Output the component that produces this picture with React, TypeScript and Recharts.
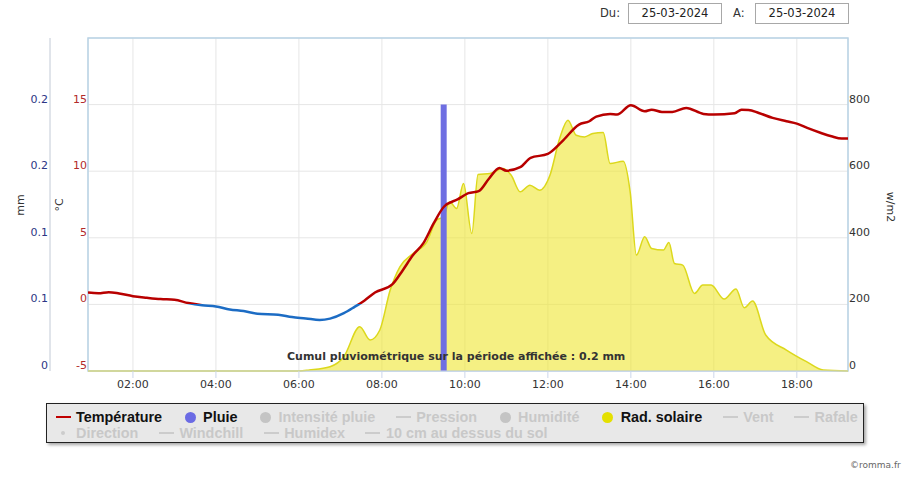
import { ComposedChart, Area, Line, Bar, XAxis, YAxis, CartesianGrid, ReferenceArea } from 'recharts'

// time range shown
const startTime = '00:55'
const endTime = '19:14'

const hourTicks = ['02:00', '04:00', '06:00', '08:00', '10:00', '12:00', '14:00', '16:00', '18:00']
const tempTicks = [-5, 0, 5, 10, 15]
const mmTicks = [0, 0.05, 0.1, 0.15, 0.2]
const radTicks = [0, 200, 400, 600, 800]

// température (°C)
const tempTimes = [
  '00:55', '01:10', '01:25', '01:40', '02:00', '02:20', '02:40', '03:00', '03:20', '03:40',
  '04:00', '04:20', '04:40', '05:00', '05:30', '05:50', '06:10', '06:30', '06:45', '07:05',
  '07:20', '07:35', '07:50', '08:15', '08:30', '08:45', '09:00', '09:15', '09:30', '09:50',
  '10:05', '10:20', '10:35', '10:50', '11:00', '11:20', '11:35', '12:00', '12:20', '12:45',
  '13:00', '13:10', '13:30', '13:40', '14:00', '14:20', '14:30', '14:45', '15:00', '15:20',
  '15:45', '16:00', '16:30', '16:40', '16:50', '17:05', '17:25', '17:45', '18:00', '18:15',
  '18:35', '18:50', '19:05', '19:14',
]
const tempValues = [
  0.89, 0.84, 0.92, 0.82, 0.62, 0.5, 0.4, 0.35, 0.1, -0.06,
  -0.15, -0.38, -0.5, -0.7, -0.77, -0.95, -1.05, -1.17, -1.07, -0.66,
  -0.2, 0.3, 0.89, 1.5, 2.55, 3.7, 4.6, 6.1, 7.35, 7.9,
  8.35, 8.5, 9.45, 10.24, 10.04, 10.3, 11.0, 11.3, 12.2, 13.5,
  13.75, 14.1, 14.3, 14.25, 14.95, 14.5, 14.62, 14.45, 14.45, 14.75,
  14.3, 14.25, 14.35, 14.62, 14.6, 14.37, 14.0, 13.75, 13.57, 13.25,
  12.87, 12.62, 12.45, 12.45,
]

// rayonnement solaire (w/m2)
const radTimes = [
  '00:55', '06:00', '06:15', '06:45', '07:05', '07:28', '07:43', '07:57', '08:12', '08:26',
  '08:45', '09:05', '09:19', '09:29', '09:38', '09:48', '09:58', '10:10', '10:19', '10:36',
  '10:55', '11:07', '11:20', '11:34', '11:48', '12:03', '12:17', '12:29', '12:41', '12:53',
  '13:05', '13:20', '13:30', '13:49', '13:59', '14:08', '14:20', '14:30', '14:47', '14:55',
  '15:03', '15:15', '15:32', '15:44', '15:56', '16:15', '16:32', '16:44', '16:56', '17:15',
  '17:45', '18:14', '18:38', '19:14',
]
const radValues = [
  0, 0, 3, 13, 43, 133, 93, 123, 243, 313,
  353, 388, 453, 463, 508, 488, 563, 413, 590, 593,
  608, 588, 538, 558, 543, 588, 698, 753, 708, 703,
  713, 716, 623, 630, 538, 348, 403, 368, 363, 386,
  323, 318, 233, 258, 258, 216, 246, 190, 210, 108,
  63, 28, 3, 0,
]

// pluie (mm)
const rainTimes = ['09:20', '09:30', '09:40']
const rainValues = [0, 0.2, 0]

const toHours = (s: string) => {
  const [h, m] = s.split(':').map(Number)
  return h + m / 60
}

const tempData = tempTimes.map((t, i) => ({ t: toHours(t), temp: tempValues[i] }))
const radData = radTimes.map((t, i) => ({ t: toHours(t), rad: radValues[i] }))
const rainData = rainTimes.map((t, i) => ({ t: toHours(t), rain: rainValues[i] }))

const tMax = Math.max(...tempValues)
const tMin = Math.min(...tempValues)
const zeroOffset = tMax / (tMax - tMin)

const font = '"DejaVu Sans", Verdana, sans-serif'

const makeTick = (fill: string, anchor: 'start' | 'end', fmt: (v: number) => string) => (props: any) => {
  const { x, y, payload } = props
  return (
    <text x={x} y={y - 6} dy="0.355em" textAnchor={anchor} fill={fill} fontSize={11} fontFamily={font}>
      {fmt(payload.value)}
    </text>
  )
}

type Item = { name: string; symbol: 'line' | 'circle' | 'dot'; color: string; active: boolean }

const legendRows: Item[][] = [
  [
    { name: 'Température', symbol: 'line', color: '#c00000', active: true },
    { name: 'Pluie', symbol: 'circle', color: '#6b6be4', active: true },
    { name: 'Intensité pluie', symbol: 'circle', color: '#c4c4c4', active: false },
    { name: 'Pression', symbol: 'line', color: '#cccccc', active: false },
    { name: 'Humidité', symbol: 'circle', color: '#c4c4c4', active: false },
    { name: 'Rad. solaire', symbol: 'circle', color: '#e4e000', active: true },
    { name: 'Vent', symbol: 'line', color: '#cccccc', active: false },
    { name: 'Rafale', symbol: 'line', color: '#cccccc', active: false },
  ],
  [
    { name: 'Direction', symbol: 'dot', color: '#cccccc', active: false },
    { name: 'Windchill', symbol: 'line', color: '#cccccc', active: false },
    { name: 'Humidex', symbol: 'line', color: '#cccccc', active: false },
    { name: '10 cm au dessus du sol', symbol: 'line', color: '#cccccc', active: false },
  ],
]

function Symbol({ item }: { item: Item }) {
  const box = { width: 16, height: 16, display: 'flex', alignItems: 'center', justifyContent: 'center' } as const
  if (item.symbol === 'line')
    return (
      <span style={box}>
        <span style={{ width: 15, height: 2, background: item.color }} />
      </span>
    )
  if (item.symbol === 'dot')
    return (
      <span style={box}>
        <span style={{ width: 4, height: 4, borderRadius: 2, background: item.color }} />
      </span>
    )
  return (
    <span style={box}>
      <span style={{ width: 11, height: 11, borderRadius: 6, background: item.color }} />
    </span>
  )
}

function ChartLegend() {
  return (
    <div
      style={{
        position: 'absolute', left: 46, top: 403, width: 818, height: 40, boxSizing: 'border-box',
        background: '#e8e8e8', border: '1px solid #222', boxShadow: '2px 2px 3px rgba(0,0,0,0.35)',
        padding: '5px 0 0 8px', fontFamily: '"Liberation Sans", Arial, sans-serif', fontWeight: 'bold', fontSize: 14.4,
      }}
    >
      {legendRows.map((row, r) => (
        <div key={r} style={{ display: 'flex', height: 16, alignItems: 'center', gap: 20, whiteSpace: 'nowrap' }}>
          {row.map((item) => (
            <span key={item.name} style={{ display: 'flex', alignItems: 'center', gap: 5 }}>
              <Symbol item={item} />
              <span style={{ color: item.active ? '#111' : '#c8c8c8', lineHeight: '16px' }}>{item.name}</span>
            </span>
          ))}
        </div>
      ))}
    </div>
  )
}

const rotated = (left: number, top: number, deg: number) =>
  ({
    position: 'absolute', left, top, transform: `translate(-50%, -50%) rotate(${deg}deg)`,
    fontFamily: font, fontSize: 11, color: '#333', whiteSpace: 'nowrap',
  }) as const

export default function App() {
  const x0 = toHours(startTime)
  const x1 = toHours(endTime)
  return (
    <div style={{ position: 'absolute', left: 0, top: 0, width: 910, height: 480, background: '#fff', fontFamily: font }}>
      <div style={{ position: 'absolute', left: 600, top: 6, fontSize: 11.5, color: '#333' }}>Du:</div>
      <div style={{ position: 'absolute', left: 628, top: 3, width: 94, height: 21, boxSizing: 'border-box', border: '1px solid #a8a8a8', textAlign: 'center', lineHeight: '19px', fontSize: 11.5, color: '#222' }}>25-03-2024</div>
      <div style={{ position: 'absolute', left: 733, top: 6, fontSize: 11.5, color: '#333' }}>A:</div>
      <div style={{ position: 'absolute', left: 755, top: 3, width: 94, height: 21, boxSizing: 'border-box', border: '1px solid #a8a8a8', textAlign: 'center', lineHeight: '19px', fontSize: 11.5, color: '#222' }}>25-03-2024</div>

      <ComposedChart width={910} height={480} data={rainData} margin={{ top: 38, right: 0, bottom: 79, left: 0 }}>
        <defs>
          <linearGradient id="tempStroke" x1="0" y1="0" x2="0" y2="1">
            <stop offset={zeroOffset} stopColor="#b80000" />
            <stop offset={zeroOffset} stopColor="#1c6cc4" />
          </linearGradient>
        </defs>
        <CartesianGrid yAxisId="celsius" stroke="#e6e6e6" />
        <XAxis
          dataKey="t"
          type="number"
          domain={[x0, x1]}
          allowDataOverflow
          ticks={hourTicks.map(toHours)}
          tickFormatter={(v: number) => `${String(Math.round(v)).padStart(2, '0')}:00`}
          height={30}
          tickSize={7}
          tickMargin={2}
          stroke="#ccd6eb"
          tick={{ fill: '#333', fontSize: 11, fontFamily: font }}
        />
        <XAxis xAxisId="rain" dataKey="t" type="number" domain={[x0, x1]} allowDataOverflow hide />
        <YAxis
          yAxisId="celsius"
          orientation="left"
          width={38}
          domain={[-5, 20]}
          ticks={tempTicks}
          axisLine={false}
          tickLine={false}
          tickSize={0}
          tickMargin={1}
          tick={makeTick('#b22a2a', 'end', (v) => String(v))}
        />
        <YAxis
          yAxisId="mm"
          orientation="left"
          width={50}
          domain={[0, 0.25]}
          ticks={mmTicks}
          axisLine={{ stroke: '#c2cad6' }}
          tickLine={false}
          tickSize={0}
          tickMargin={2}
          tick={makeTick('#2c3585', 'end', (v) => String(Math.round(v * 10) / 10))}
        />
        <YAxis
          yAxisId="rad"
          orientation="right"
          width={62}
          domain={[0, 1000]}
          ticks={radTicks}
          axisLine={false}
          tickLine={false}
          tickSize={0}
          tickMargin={1}
          tick={makeTick('#333', 'start', (v) => String(v))}
        />
        <ReferenceArea yAxisId="celsius" x1={x0} x2={x1} y1={-5} y2={20} fill="none" stroke="#b9d3e6" strokeWidth={1.5} />
        <Area
          yAxisId="rad"
          data={radData}
          dataKey="rad"
          type="monotone"
          fill="#eee631"
          fillOpacity={0.6}
          stroke="#dcd81c"
          strokeWidth={1.5}
          isAnimationActive={false}
        />
        <Bar xAxisId="rain" yAxisId="mm" dataKey="rain" fill="#6e6ee2" barSize={6} isAnimationActive={false} />
        <Line
          yAxisId="celsius"
          data={tempData}
          dataKey="temp"
          type="monotone"
          stroke="url(#tempStroke)"
          strokeWidth={2.5}
          dot={false}
          isAnimationActive={false}
        />
      </ComposedChart>

      <div style={{ position: 'absolute', left: 287, top: 350, fontFamily: font, fontWeight: 'bold', fontSize: 11, color: '#333', whiteSpace: 'nowrap' }}>
        Cumul pluviométrique sur la période affichée : 0.2 mm
      </div>

      <div style={rotated(20, 205, -90)}>mm</div>
      <div style={rotated(59, 205, -90)}>°C</div>
      <div style={rotated(890, 207, 90)}>w/m2</div>

      <ChartLegend />

      <div style={{ position: 'absolute', left: 850, top: 460, fontSize: 9, color: '#666' }}>©romma.fr</div>
    </div>
  )
}
